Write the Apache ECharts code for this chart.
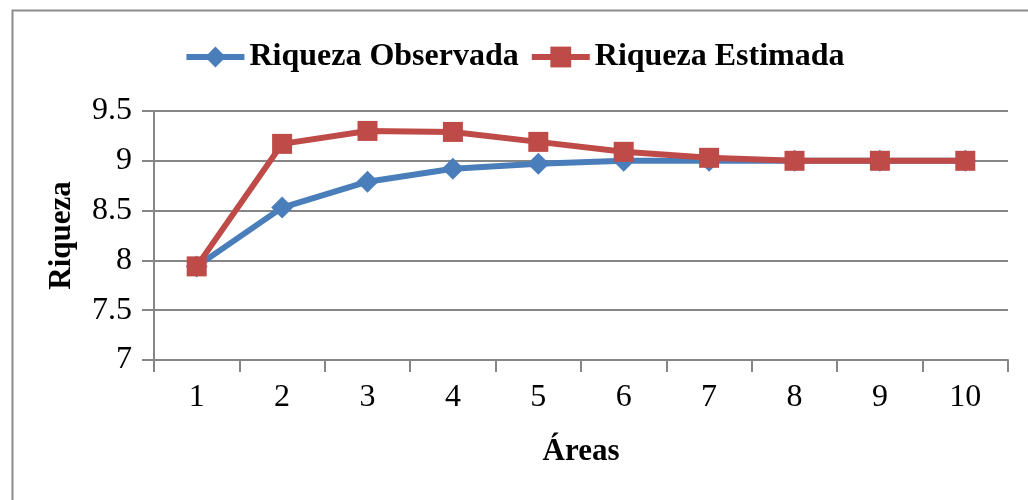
<!DOCTYPE html>
<html>
<head>
<meta charset="utf-8">
<script src="https://cdn.jsdelivr.net/npm/echarts@6/dist/echarts.min.js"></script>
<style>html,body{margin:0;padding:0;background:#fff}#c{width:1028px;height:500px}</style>
</head>
<body>
<div id="c"></div>
<script>
var categories = ['1','2','3','4','5','6','7','8','9','10'];
var observada = [7.94, 8.53, 8.79, 8.92, 8.97, 9.0, 9.0, 9.0, 9.0, 9.0];
var estimada = [7.94, 9.17, 9.30, 9.29, 9.19, 9.09, 9.03, 9.0, 9.0, 9.0];
var seriesNames = ['Riqueza Observada', 'Riqueza Estimada'];
var xTitle = 'Áreas';
var yTitle = 'Riqueza';

var serif = '"Liberation Serif", "Times New Roman", serif';
var grey = '#868686';
var chart = echarts.init(document.getElementById('c'), null, {renderer: 'canvas'});
chart.setOption({
  backgroundColor: '#fff',
  animation: false,
  graphic: [{
    type: 'rect', left: 10, top: 8, z: -10,
    shape: {width: 1040, height: 520},
    style: {fill: 'none', stroke: '#8c8c8c', lineWidth: 2}
  }],
  legend: {
    top: 36, left: 'center',
    itemWidth: 58, itemHeight: 26, itemGap: 10,
    lineStyle: {width: 6},
    textStyle: {fontFamily: serif, fontWeight: 'bold', fontSize: 32, color: '#000'},
    data: seriesNames
  },
  grid: {left: 154, right: 20, top: 111, bottom: 140},
  xAxis: {
    type: 'category', data: categories, boundaryGap: true,
    name: xTitle, nameLocation: 'middle', nameGap: 76,
    nameTextStyle: {fontFamily: serif, fontWeight: 'bold', fontSize: 31, color: '#000'},
    axisLine: {lineStyle: {color: grey, width: 2}},
    axisTick: {show: true, length: 12, lineStyle: {color: grey, width: 2}},
    axisLabel: {fontFamily: serif, fontSize: 32, color: '#000', margin: 22}
  },
  yAxis: {
    type: 'value', min: 7, max: 9.5, interval: 0.5,
    name: yTitle, nameLocation: 'middle', nameGap: 77, nameRotate: 90,
    nameTextStyle: {fontFamily: serif, fontWeight: 'bold', fontSize: 31, color: '#000'},
    axisLine: {show: true, lineStyle: {color: grey, width: 2}},
    axisTick: {show: true, length: 12, lineStyle: {color: grey, width: 2}},
    axisLabel: {fontFamily: serif, fontSize: 32, color: '#000', margin: 22},
    splitLine: {show: true, lineStyle: {color: grey, width: 2}}
  },
  series: [{
    name: seriesNames[0], type: 'line', data: observada,
    symbol: 'diamond', symbolSize: [22, 22],
    lineStyle: {color: '#4A7EBB', width: 6},
    itemStyle: {color: '#4A7EBB'}, z: 2
  }, {
    name: seriesNames[1], type: 'line', data: estimada,
    symbol: 'rect', symbolSize: 20,
    lineStyle: {color: '#BE4B48', width: 6},
    itemStyle: {color: '#BE4B48'}, z: 3
  }]
});
</script>
</body>
</html>
